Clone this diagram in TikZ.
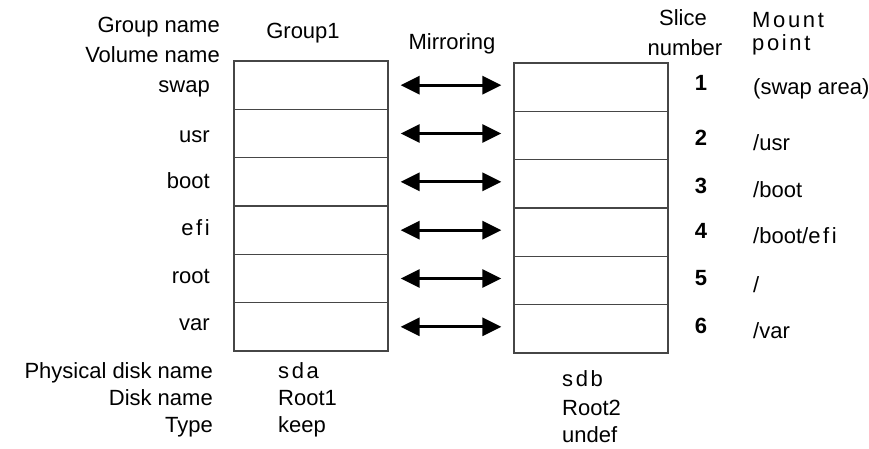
\documentclass[tikz,border=0pt]{standalone}
\usepackage{fontspec}
\setmainfont{Liberation Sans}
\usetikzlibrary{arrows.meta,calc}
\definecolor{cellGray}{RGB}{70,70,70}
\newcommand\spacedtext[1]{{\addfontfeature{LetterSpace=12}#1}}

\begin{document}
\begin{tikzpicture}[x=1pt,y=-1pt,
    lbl/.style={font=\fontsize{22}{26}\selectfont, inner sep=0pt, anchor=base},
    cell/.style={draw=cellGray, line width=1.3pt, minimum width=154pt, minimum height=48.33pt, inner sep=0pt},
    mirror/.style={line width=3pt, {Triangle[length=19pt,width=18pt]}-{Triangle[length=19pt,width=18pt]}}]
  \useasboundingbox (0,0) rectangle (869,448);

  % headings
  \node[lbl, anchor=base east] (grpname) at (220,32) {Group name};
  \node[lbl, anchor=base east] (volname) at (220,62) {Volume name};
  \node[lbl] (group1) at (303,38) {Group1};
  \node[lbl] (mirroring) at (452,49) {Mirroring};
  \node[lbl] (slice) at (683,25) {Slice};
  \node[lbl] (number) at (685,55) {number};
  \node[lbl, anchor=base west] (mount) at (752,27) {\spacedtext{Mount}};
  \node[lbl, anchor=base west] (point) at (752,50) {\spacedtext{point}};

  % slices of both disks
  \foreach \vol/\yv/\ys/\ym/\mnt [count=\i] in {swap/92/90/94/{(swap area)}, usr/142/145/150/{/usr},
      boot/188/193/197/{/boot}, {\spacedtext{efi}}/235/238/243/{/boot/\spacedtext{efi}},
      root/283/285/292/{/}, var/330/333/338/{/var}} {
    \node[cell] (l\i) at (311, {61+48.33*(\i-0.5)}) {};
    \node[cell] (r\i) at (591, {63+48.33*(\i-0.5)}) {};
    \draw[mirror] ($(l\i.east)+(12,0)$) -- ($(l\i.east -| r\i.west)+(-12,0)$);
    \node[lbl, anchor=base east] (v\i) at (210,\yv) {\vol};
    \node[lbl, font=\fontsize{22}{26}\selectfont\bfseries] (s\i) at (701,\ys) {\i};
    \node[lbl, anchor=base west] (m\i) at (753,\ym) {\mnt};
  }

  % disks
  \node[lbl, anchor=base east] (physlbl) at (213,378) {Physical disk name};
  \node[lbl, anchor=base east] (disklbl) at (213,405) {Disk name};
  \node[lbl, anchor=base east] (typelbl) at (213,432) {Type};
  \node[lbl, anchor=base west] (sda) at (278,378) {\spacedtext{sda}};
  \node[lbl, anchor=base west] (root1) at (278,405) {Root1};
  \node[lbl, anchor=base west] (keep) at (278,432) {keep};
  \node[lbl, anchor=base west] (sdb) at (562,386) {\spacedtext{sdb}};
  \node[lbl, anchor=base west] (root2) at (562,415) {Root2};
  \node[lbl, anchor=base west] (undef) at (562,442) {undef};
\end{tikzpicture}
\end{document}
